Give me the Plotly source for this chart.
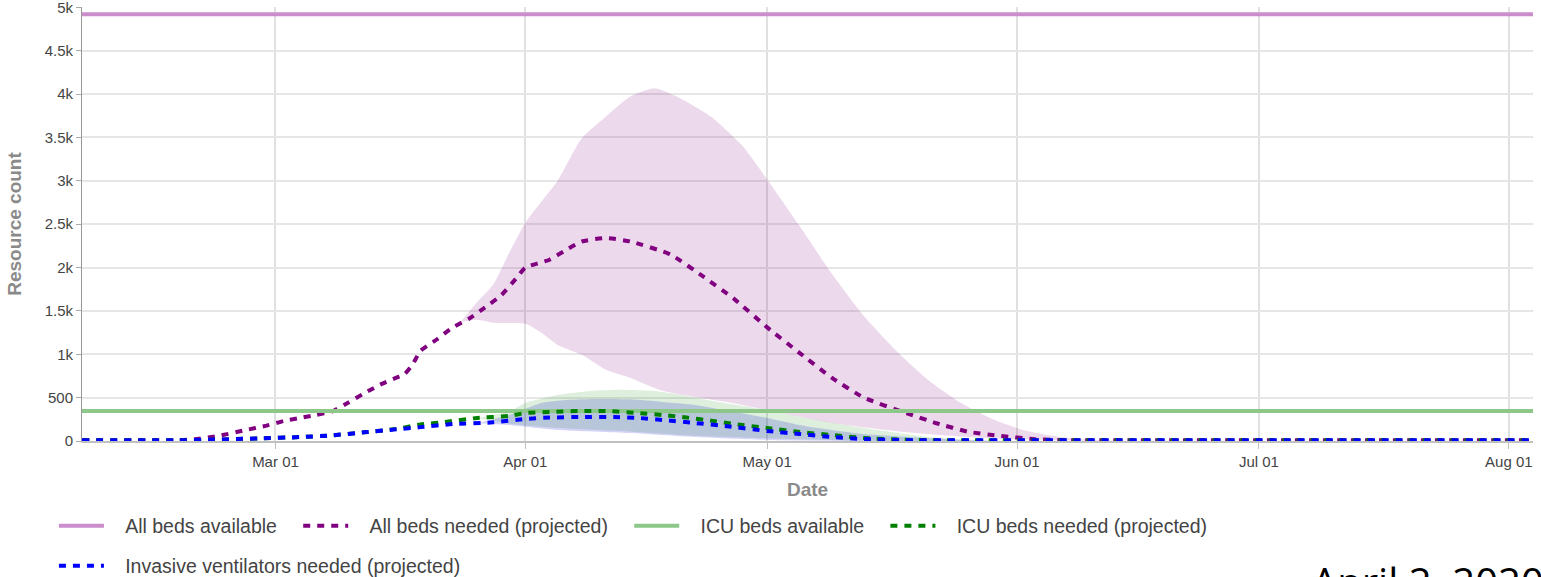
import plotly.graph_objects as go

# ---------------- data ----------------
beds_available = 4920
icu_available = 346
x_start, x_end = "2020-02-06", "2020-08-04"

all_needed_dates = ["2020-02-06", "2020-02-18", "2020-02-20", "2020-02-23", "2020-02-26", "2020-02-29",
                    "2020-03-02", "2020-03-04", "2020-03-06", "2020-03-08", "2020-03-10", "2020-03-12",
                    "2020-03-14", "2020-03-16", "2020-03-17", "2020-03-18", "2020-03-19", "2020-03-21",
                    "2020-03-23", "2020-03-25", "2020-03-27", "2020-03-29", "2020-03-31", "2020-04-01",
                    "2020-04-04", "2020-04-06", "2020-04-08", "2020-04-11", "2020-04-14", "2020-04-19",
                    "2020-04-23", "2020-04-27", "2020-05-01", "2020-05-05", "2020-05-09", "2020-05-13",
                    "2020-05-18", "2020-05-22", "2020-05-26", "2020-05-30", "2020-06-03", "2020-06-07",
                    "2020-06-15", "2020-08-04"]
all_needed = [8, 8, 20, 60, 120, 180, 230, 265, 300, 340, 440, 550, 650, 730, 770, 880, 1040, 1170,
              1310, 1410, 1540, 1680, 1890, 2000, 2090, 2200, 2300, 2340, 2300, 2150, 1900, 1630,
              1310, 1016, 730, 500, 330, 205, 105, 58, 23, 10, 8, 8]

all_upper_dates = ["2020-03-24", "2020-03-26", "2020-03-28", "2020-03-30", "2020-04-01", "2020-04-03",
                   "2020-04-05", "2020-04-08", "2020-04-11", "2020-04-14", "2020-04-17", "2020-04-20",
                   "2020-04-24", "2020-04-28", "2020-05-01", "2020-05-05", "2020-05-09", "2020-05-13",
                   "2020-05-17", "2020-05-21", "2020-05-25", "2020-05-29", "2020-06-02", "2020-06-06",
                   "2020-06-10", "2020-06-15"]
all_upper = [1374, 1600, 1800, 2170, 2517, 2760, 3000, 3490, 3741, 3970, 4065, 3960, 3740, 3395,
             3014, 2480, 1930, 1440, 1040, 700, 440, 250, 120, 50, 15, 0]

all_lower_dates = ["2020-03-24", "2020-03-26", "2020-03-28", "2020-04-01", "2020-04-03", "2020-04-05",
                   "2020-04-08", "2020-04-11", "2020-04-14", "2020-04-18", "2020-04-22", "2020-04-26",
                   "2020-05-01", "2020-05-09", "2020-05-18", "2020-05-26", "2020-06-03", "2020-06-11",
                   "2020-06-15"]
all_lower = [1374, 1397, 1363, 1351, 1247, 1108, 993, 820, 727, 580, 508, 450, 358, 208, 104, 46,
             15, 0, 0]

icu_needed_dates = ["2020-02-06", "2020-02-18", "2020-02-22", "2020-02-28", "2020-03-04", "2020-03-08",
                    "2020-03-12", "2020-03-16", "2020-03-19", "2020-03-22", "2020-03-26", "2020-03-30",
                    "2020-04-01", "2020-04-04", "2020-04-08", "2020-04-11", "2020-04-15", "2020-04-18",
                    "2020-04-21", "2020-04-24", "2020-04-27", "2020-05-01", "2020-05-05", "2020-05-09",
                    "2020-05-13", "2020-05-18", "2020-05-26", "2020-06-05", "2020-08-04"]
icu_needed = [8, 8, 15, 30, 45, 65, 100, 140, 190, 219, 266, 289, 323, 335, 346, 346, 323, 300,
              270, 235, 195, 150, 104, 69, 35, 14, 8, 8, 8]

icu_upper_dates = ["2020-03-26", "2020-03-30", "2020-04-01", "2020-04-05", "2020-04-09", "2020-04-13",
                   "2020-04-17", "2020-04-21", "2020-04-25", "2020-04-29", "2020-05-01", "2020-05-07",
                   "2020-05-13", "2020-05-21", "2020-05-27"]
icu_upper = [266, 340, 439, 531, 577, 590, 575, 520, 450, 390, 358, 243, 150, 46, 0]

icu_lower_dates = ["2020-03-26", "2020-03-30", "2020-04-05", "2020-04-14", "2020-04-22", "2020-05-01",
                   "2020-05-13", "2020-05-27"]
icu_lower = [266, 200, 150, 110, 60, 30, 5, 0]

vent_needed_dates = ["2020-02-06", "2020-02-18", "2020-02-22", "2020-02-28", "2020-03-04", "2020-03-08",
                     "2020-03-12", "2020-03-16", "2020-03-19", "2020-03-23", "2020-03-28", "2020-04-01",
                     "2020-04-04", "2020-04-08", "2020-04-12", "2020-04-15", "2020-04-18", "2020-04-22",
                     "2020-04-26", "2020-05-01", "2020-05-05", "2020-05-09", "2020-05-13", "2020-05-18",
                     "2020-06-01", "2020-08-04"]
vent_needed = [8, 8, 15, 30, 45, 65, 100, 135, 160, 196, 215, 255, 270, 277, 277, 266, 243, 208,
               170, 115, 81, 46, 23, 10, 8, 8]

vent_upper_dates = ["2020-03-26", "2020-03-30", "2020-04-03", "2020-04-06", "2020-04-10", "2020-04-14",
                    "2020-04-18", "2020-04-22", "2020-04-27", "2020-05-01", "2020-05-05", "2020-05-09",
                    "2020-05-13", "2020-05-21", "2020-05-30"]
vent_upper = [205, 300, 439, 473, 485, 480, 450, 416, 335, 266, 185, 127, 81, 35, 0]

vent_lower_dates = ["2020-03-26", "2020-03-30", "2020-04-05", "2020-04-14", "2020-04-22", "2020-05-01",
                    "2020-05-13"]
vent_lower = [205, 185, 127, 92, 46, 12, 0]

legend_names = ["All beds available", "All beds needed (projected)", "ICU beds available",
                "ICU beds needed (projected)", "Invasive ventilators needed (projected)"]
date_label = "April 2, 2020"

# ---------------- figure ----------------
fig = go.Figure()


def band(xl, yl, xu, yu, color):
    fig.add_trace(go.Scatter(x=xl, y=yl, mode="lines", line=dict(width=0, shape="spline", smoothing=0.6),
                             showlegend=False, hoverinfo="skip"))
    fig.add_trace(go.Scatter(x=xu, y=yu, mode="lines", line=dict(width=0, shape="spline", smoothing=0.6),
                             fill="tonexty", fillcolor=color, showlegend=False, hoverinfo="skip"))


band(all_lower_dates, all_lower, all_upper_dates, all_upper, "rgba(128,0,128,0.15)")
band(icu_lower_dates, icu_lower, icu_upper_dates, icu_upper, "rgba(0,128,0,0.13)")
band(vent_lower_dates, vent_lower, vent_upper_dates, vent_upper, "rgba(0,0,200,0.17)")

NB = "\u00a0"


def lname(s):
    return NB * 3 + s + NB * 3


dash = "7px,7px"
fig.add_trace(go.Scatter(x=[x_start, x_end], y=[beds_available] * 2, mode="lines",
                         line=dict(color="#cc8dcc", width=4), name=lname(legend_names[0])))
fig.add_trace(go.Scatter(x=all_needed_dates, y=all_needed, mode="lines",
                         line=dict(color="#800080", width=4, dash=dash, shape="spline", smoothing=0.5),
                         name=lname(legend_names[1])))
fig.add_trace(go.Scatter(x=[x_start, x_end], y=[icu_available] * 2, mode="lines",
                         line=dict(color="#8dc88a", width=4), name=lname(legend_names[2])))
fig.add_trace(go.Scatter(x=icu_needed_dates, y=icu_needed, mode="lines",
                         line=dict(color="#008000", width=4, dash=dash, shape="spline", smoothing=0.5),
                         name=lname(legend_names[3])))
fig.add_trace(go.Scatter(x=vent_needed_dates, y=vent_needed, mode="lines",
                         line=dict(color="#0000ff", width=4, dash=dash, shape="spline", smoothing=0.5),
                         name=lname(legend_names[4]), legend="legend2"))

tickfont = dict(family="Liberation Sans, Arial, sans-serif", size=15, color="#444")
titlefont = dict(family="Liberation Sans, Arial, sans-serif", size=19, color="#8a8a8a", weight="bold")
legfont = dict(family="Liberation Sans, Arial, sans-serif", size=19.5, color="#444")

fig.update_layout(
    width=1541, height=577,
    margin=dict(l=82, r=8, t=7, b=136, autoexpand=False),
    paper_bgcolor="white", plot_bgcolor="white",
    font=dict(family="Liberation Sans, Arial, sans-serif", color="#444"),
    xaxis=dict(range=[x_start, x_end], type="date", tickformat="%b %d", dtick="M1",
               tick0="2020-03-01", showgrid=True, gridcolor="#e0e0e0", gridwidth=2,
               showline=True, linecolor="#c0c0c0", linewidth=2, ticks="outside", ticklen=6,
               tickcolor="#c0c0c0", tickfont=tickfont, zeroline=False, automargin=False,
               title=dict(text="Date", font=titlefont, standoff=14)),
    yaxis=dict(range=[0, 5003], tickvals=[0, 500, 1000, 1500, 2000, 2500, 3000, 3500, 4000, 4500, 5000],
               tickformat="~s", ticklabeloverflow="allow", showgrid=True, gridcolor="#e6e6e6",
               gridwidth=2, showline=True, linecolor="#999", linewidth=1, ticks="outside", ticklen=5,
               tickcolor="#aaa", tickfont=tickfont, zeroline=False, automargin=False,
               title=dict(text="Resource count", font=titlefont, standoff=17)),
    legend=dict(orientation="h", xref="container", yref="container", x=0.035, y=0.1222,
                xanchor="left", yanchor="top", itemwidth=45, traceorder="normal", font=legfont),
    legend2=dict(orientation="h", xref="container", yref="container", x=0.035, y=0.0529,
                 xanchor="left", yanchor="top", itemwidth=45, font=legfont),
    annotations=[dict(text=date_label, xref="paper", yref="paper", x=0.8464, y=-0.256,
                      xanchor="left", yanchor="top", showarrow=False,
                      font=dict(family="Open Sans, sans-serif", size=40, color="black"))],
)

fig.write_html("out.html", post_script="document.body.style.margin='0';",
               config={"displayModeBar": False})
